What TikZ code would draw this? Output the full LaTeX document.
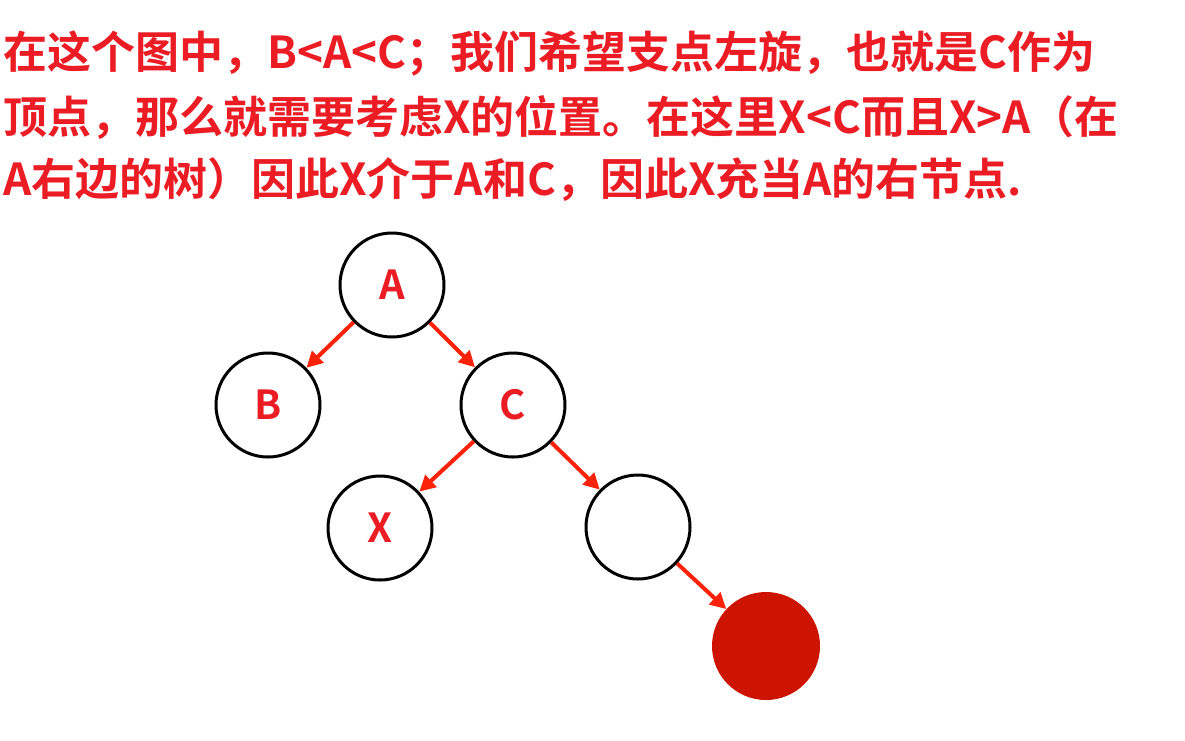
\documentclass[tikz,border=0pt]{standalone}
\usepackage{fontspec}
\usetikzlibrary{arrows.meta}
\newfontfamily\cjk{Noto Sans CJK SC}[BoldFont={Noto Sans CJK SC Bold}]
\definecolor{txtred}{RGB}{236,28,36}
\definecolor{arrred}{RGB}{250,35,10}
\definecolor{fillred}{RGB}{205,20,0}
\tikzset{
  line/.style={font=\cjk\bfseries\fontsize{44}{44}\selectfont, text=txtred, anchor=base west, inner sep=0pt},
  tnode/.style={circle, draw=black, line width=3pt, minimum size=104pt, inner sep=0pt,
    text=txtred, font=\cjk\bfseries\fontsize{40}{40}\selectfont},
  rnode/.style={circle, fill=fillred, minimum size=108pt, inner sep=0pt},
  edge/.style={draw=arrred, line width=4pt, -{Triangle[length=16pt,width=16pt]}}
}
\begin{document}
\begin{tikzpicture}[x=1pt,y=-1pt]
\useasboundingbox (0,0) rectangle (1185,740);
\fill[white] (0,0) rectangle (1185,740);
\node[line] (l1) at (3,68) {在这个图中，B<A<C；我们希望支点左旋，也就是C作为};
\node[line] (l2) at (3,133) {顶点，那么就需要考虑X的位置。在这里X<C而且X>A（在};
\node[line] (l3) at (3,195) {A右边的树）因此X介于A和C，因此X充当A的右节点.};

\node[tnode] (A) at (392,285) {A};
\node[tnode] (B) at (268,405) {B};
\node[tnode] (C) at (513,405) {C};
\node[tnode] (X) at (380,528) {X};
\node[tnode] (E) at (638,527) {};
\node[rnode] (R) at (766,646) {};

\draw[edge] (A) -- (B);
\draw[edge] (A) -- (C);
\draw[edge] (C) -- (X);
\draw[edge] (C) -- (E);
\draw[edge] (E) -- (R);
\end{tikzpicture}
\end{document}
